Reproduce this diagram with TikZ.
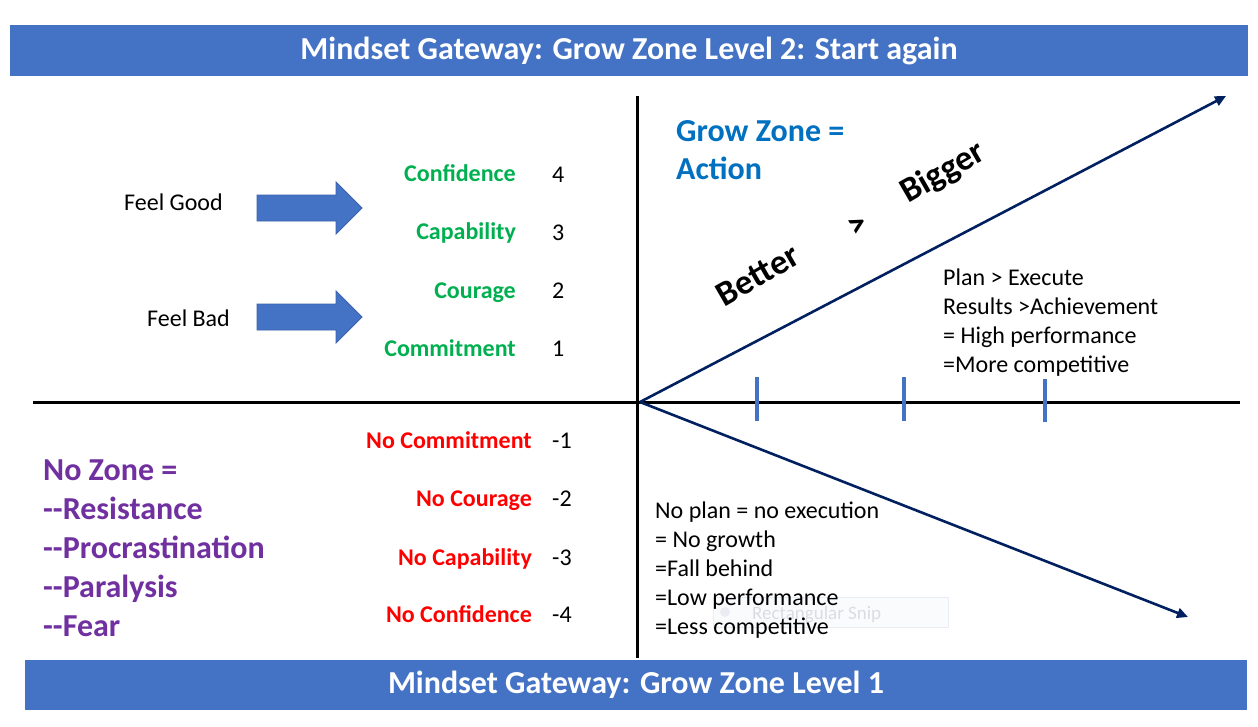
\documentclass[tikz,border=0pt]{standalone}
\usepackage{fontspec}
\setmainfont{Carlito}
\usetikzlibrary{arrows.meta}
\definecolor{barblue}{HTML}{4472C4}
\definecolor{baredge}{HTML}{3A62AE}
\definecolor{navy}{HTML}{002060}
\definecolor{gzgreen}{HTML}{00B050}
\definecolor{gzred}{HTML}{FF0000}
\definecolor{gzpurple}{HTML}{7030A0}
\definecolor{gzblue}{HTML}{0070C0}
\definecolor{ghostfill}{HTML}{FAFBFD}
\definecolor{ghostedge}{HTML}{E9EDF3}
\definecolor{ghosttext}{HTML}{D9DDE2}
\begin{document}
\begin{tikzpicture}[x=1pt,y=-1pt,
  bar/.style={fill=barblue, draw=none, text=white, font=\fontsize{32}{38}\selectfont\bfseries, inner sep=0},
  body/.style={font=\fontsize{24}{29}\selectfont, inner sep=0, anchor=base west, align=left, text=black},
  lvlpos/.style={font=\fontsize{24}{29}\selectfont\bfseries, inner sep=0, anchor=base east, text=gzgreen},
  lvlneg/.style={font=\fontsize{24}{29}\selectfont\bfseries, inner sep=0, anchor=base east, text=gzred},
  num/.style={font=\fontsize{24}{29}\selectfont, inner sep=0, anchor=base west},
  big/.style={font=\fontsize{32}{39}\selectfont\bfseries, inner sep=0, anchor=base west, align=left},
  rot/.style={font=\fontsize{35}{40}\selectfont\bfseries, inner sep=0, rotate=30},
  axis/.style={line width=3pt, black},
  trend/.style={line width=2.6pt, navy, -{Triangle[length=11pt,width=10pt]}},
  tick/.style={line width=4pt, barblue},
  blockarrow/.style={fill=barblue, draw=baredge, line width=0.8pt}
]
\useasboundingbox (0,0) rectangle (1258,726);
\fill[white] (0,0) rectangle (1258,726);

% title bars
\node[bar, minimum width=1238, minimum height=51] (topbar) at (629,50.5) {Mindset Gateway: Grow Zone Level 2: Start again};
\node[bar, minimum width=1222, minimum height=50] (botbar) at (636,685) {Mindset Gateway: Grow Zone Level 1};

% ghost tooltip
\node[fill=ghostfill, draw=ghostedge, line width=0.8pt, minimum width=235, minimum height=30, inner sep=0] (ghost) at (830.5,612.5) {};
\node[circle, fill=ghostedge, minimum size=10, inner sep=0] (ghostdot) at (725,612) {};
\node[font=\fontsize{19}{22}\selectfont, text=ghosttext, inner sep=0, anchor=base west] (ghosttxt) at (752,619) {Rectangular Snip};

% axes
\coordinate (vtop) at (637,96);
\coordinate (vbot) at (637,658);
\coordinate (hleft) at (33,402);
\coordinate (hright) at (1240,402);
\draw[axis] (vtop) -- (vbot);
\draw[axis] (hleft) -- (hright);

% trend arrows
\coordinate (O) at (640,402);
\coordinate (up) at (1226,96);
\coordinate (down) at (1188,617);
\draw[trend] (O) -- (up);
\draw[trend] (O) -- (down);

% ticks
\coordinate (t1a) at (757,377); \coordinate (t1b) at (757,421);
\coordinate (t2a) at (904,377); \coordinate (t2b) at (904,421);
\coordinate (t3a) at (1045,379); \coordinate (t3b) at (1045,422);
\draw[tick] (t1a) -- (t1b);
\draw[tick] (t2a) -- (t2b);
\draw[tick] (t3a) -- (t3b);

% block arrows
\draw[blockarrow] (257,195) -- (336,195) -- (336,182) -- (362,208) -- (336,234) -- (336,221) -- (257,221) -- cycle;
\draw[blockarrow] (257,304) -- (336,304) -- (336,291) -- (362,317) -- (336,343) -- (336,330) -- (257,330) -- cycle;

% feel labels
\node[body] (feelgood) at (124,210) {Feel Good};
\node[body] (feelbad) at (147,326) {Feel Bad};

% positive levels
\node[lvlpos] (conf) at (516,181) {Confidence};
\node[lvlpos] (capa) at (516,239) {Capability};
\node[lvlpos] (cour) at (516,298) {Courage};
\node[lvlpos] (comm) at (516,356) {Commitment};
\node[num] (n4) at (552,182) {4};
\node[num] (n3) at (552,240) {3};
\node[num] (n2) at (552,298) {2};
\node[num] (n1) at (552,356) {1};

% negative levels
\node[lvlneg] (ncomm) at (532,448) {No Commitment};
\node[lvlneg] (ncour) at (532,506) {No Courage};
\node[lvlneg] (ncapa) at (532,565) {No Capability};
\node[lvlneg] (nconf) at (532,622) {No Confidence};
\node[num] (m1) at (552,448) {-1};
\node[num] (m2) at (552,506) {-2};
\node[num] (m3) at (552,565) {-3};
\node[num] (m4) at (552,622) {-4};

% no zone (baseline of last line)
\node[big, text=gzpurple] (nozone) at (43,636) {No Zone =\\-{}-Resistance\\-{}-Procrastination\\-{}-Paralysis\\-{}-Fear};

% grow zone
\node[big, text=gzblue, font=\fontsize{32}{38}\selectfont\bfseries] (growzone) at (676,179) {Grow Zone =\\Action};

% rotated words
\node[rot] (better) at (758,275) {Better};
\node[rot] (gt) at (858,226) {>};
\node[rot] (bigger) at (943,173) {Bigger};

% text blocks (baseline of last line)
\node[body] (plan) at (943,372) {Plan > Execute\\Results >Achievement\\= High performance\\=More competitive};
\node[body] (noplan) at (655,634) {No plan = no execution\\= No growth\\=Fall behind\\=Low performance\\=Less competitive};
\end{tikzpicture}
\end{document}
